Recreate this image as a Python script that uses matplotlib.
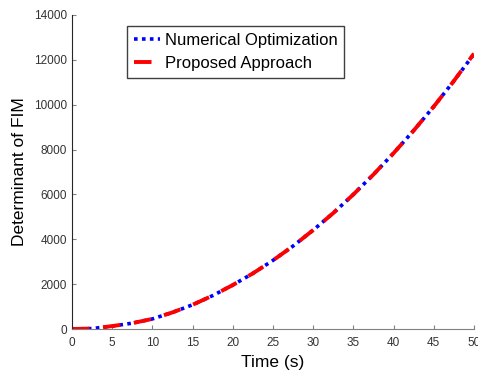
import matplotlib
matplotlib.use('Agg')
import matplotlib.pyplot as plt

plt.rcParams['font.family'] = ['Liberation Sans', 'DejaVu Sans']

# values
time_s = [0, 2.5, 5, 7.5, 10, 12.5, 15, 17.5, 20, 22.5, 25, 27.5, 30,
          32.5, 35, 37.5, 40, 42.5, 45, 47.5, 50]
det_numerical = [0, 20, 130, 260, 450, 740, 1080, 1490, 1960, 2480, 3060,
                 3700, 4410, 5170, 6000, 6890, 7840, 8850, 9920, 11060, 12260]
det_proposed = [0, 20, 130, 260, 450, 740, 1080, 1490, 1960, 2480, 3060,
                3700, 4410, 5170, 6000, 6890, 7840, 8850, 9920, 11060, 12280]

fig = plt.figure(figsize=(4.78, 3.74), dpi=100)
ax = fig.add_axes([0.1506, 0.1203, 0.8410, 0.8396])

ax.plot(time_s, det_numerical, color='blue', linestyle=(0, (1, 1.2)),
        linewidth=2.6, label='Numerical Optimization')
ax.plot(time_s, det_proposed, color='red', linestyle=(0, (4.5, 3.5)),
        linewidth=2.8, label='Proposed Approach')

ax.set_xlim(0, 50)
ax.set_ylim(0, 14000)
ax.set_xticks(range(0, 51, 5))
ax.set_yticks(range(0, 14001, 2000))

ax.spines['top'].set_visible(False)
ax.spines['right'].set_visible(False)
ax.spines['bottom'].set_color('#808080')
ax.spines['left'].set_color('#262626')
ax.tick_params(direction='in', length=3, color='#808080', labelsize=8.5,
               labelcolor='#333333')
ax.tick_params(axis='x', pad=6)

ax.set_xlabel('Time (s)', fontsize=12.5, labelpad=4)
ax.set_ylabel('Determinant of FIM', fontsize=12.5, labelpad=5)

ax.legend(loc='upper left', bbox_to_anchor=(0.137, 0.965), fontsize=12,
          frameon=True, fancybox=False, edgecolor='#404040', framealpha=1,
          handlelength=1.6, handletextpad=0.25, borderpad=0.4,
          labelspacing=0.5, borderaxespad=0)

fig.savefig('out.png', dpi=100)
